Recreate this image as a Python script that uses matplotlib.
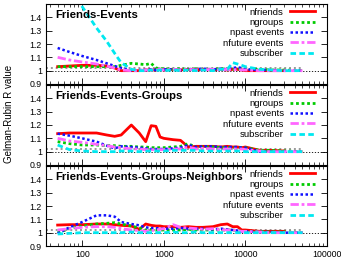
import numpy as np
import matplotlib
matplotlib.use("Agg")
import matplotlib.pyplot as plt

nan = np.nan

# shared sample sizes (x axis)
X = [50, 70, 100, 150, 200, 250, 300, 400, 500, 600, 700, 800, 900, 1000, 1300,
     1600, 2000, 2500, 3000, 4000, 5000, 6000, 7000, 8000, 9000, 10000, 15000,
     20000, 30000, 50000]

series_names = ["nfriends", "ngroups", "npast events", "nfuture events", "subscriber"]
panel_titles = ["Friends-Events", "Friends-Events-Groups",
                "Friends-Events-Groups-Neighbors"]

# Friends-Events
fe_nfriends = [1.03, 1.035, 1.04, 1.04, 1.035, 1.02, 1.0, 1.0, 1.0, 1.005, 1.005, 1.005, 1.01, 1.005, 1.01,
               1.005, 1.01, 1.005, 1.01, 1.005, 1.01, 1.005, 1.01, 1.01, 1.005, 1.0, 1.0, 1.0, 1.0, nan]
fe_ngroups = [1.03, 1.03, 1.03, 1.03, 1.03, 1.03, 1.04, 1.055, 1.05, 1.045, 1.055, 1.02, 1.015, 1.015, 1.01,
              1.015, 1.01, 1.015, 1.01, 1.01, 1.015, 1.01, 1.01, 1.015, 1.01, 1.01, 1.01, 1.005, 1.005, 1.0]
fe_npast = [1.17, 1.14, 1.11, 1.08, 1.055, 1.035, 1.02, 1.0, 1.005, 1.005, 1.01, 1.005, 1.01, 1.01, 1.01,
            1.005, 1.01, 1.01, 1.015, 1.01, 1.015, 1.01, 1.02, 1.025, 1.02, 1.01, 1.005, 1.005, 1.0, 1.0]
fe_nfuture = [1.10, 1.08, 1.065, 1.05, 1.035, 1.02, 1.005, 1.0, 1.0, 1.005, 1.005, 1.005, 1.01, 1.005, 1.01,
              1.005, 1.01, 1.005, 1.005, 1.01, 1.005, 1.01, 1.005, 1.01, 1.005, 1.005, 1.0, 1.0, 1.0, 1.0]
fe_subscriber = [1.75, 1.6, 1.48, 1.32, 1.22, 1.13, 1.06, 1.01, 1.0, 1.0, 1.005, 1.0, 1.005, 1.0, 1.005,
                 1.0, 1.005, 1.0, 1.005, 1.0, 1.01, 1.01, 1.06, 1.05, 1.04, 1.03, 1.01, 1.005, 1.0, 1.0]

# Friends-Events-Groups
feg_nfriends = [1.135, 1.14, 1.14, 1.14, 1.125, 1.115, 1.125, 1.2, 1.14, 1.075, 1.195, 1.19, 1.11, 1.10, 1.09,
                1.085, 1.035, 1.04, 1.04, 1.04, 1.035, 1.04, 1.035, 1.035, 1.03, 1.035, 1.01, 1.01, 1.005, nan]
feg_ngroups = [1.075, 1.06, 1.05, 1.05, 1.045, 1.045, 1.04, 1.04, 1.035, 1.035, 1.03, 1.03, 1.03, 1.03, 1.035,
               1.04, 1.06, 1.03, 1.035, 1.035, 1.03, 1.03, 1.03, 1.03, 1.03, 1.03, 1.01, 1.01, 1.005, 1.0]
feg_npast = [1.135, 1.12, 1.10, 1.075, 1.045, 1.025, 1.04, 1.035, 1.03, 1.025, 1.02, 1.02, 1.02, 1.02, 1.025,
             1.03, 1.05, 1.035, 1.04, 1.04, 1.035, 1.035, 1.035, 1.035, 1.03, 1.03, 1.0, 1.0, 1.0, 1.0]
feg_nfuture = [1.10, 1.08, 1.07, 1.055, 1.045, 1.035, 1.03, 1.02, 1.02, 1.015, 1.015, 1.015, 1.015, 1.015, 1.02,
               1.02, 1.035, 1.02, 1.025, 1.02, 1.02, 1.02, 1.02, 1.02, 1.02, 1.015, 1.005, 1.0, 1.0, 1.0]
feg_subscriber = [1.05, 1.015, 1.005, 1.0, 1.0, 1.0, 1.005, 1.005, 1.0, 1.005, 1.005, 1.005, 1.005, 1.005, 1.01,
                  1.01, 1.01, 1.01, 1.005, 1.005, 1.005, 1.005, 1.005, 1.005, 1.005, 1.0, 1.0, 1.0, 1.0, 1.0]

# Friends-Events-Groups-Neighbors
fegn_nfriends = [1.057, 1.06, 1.06, 1.065, 1.065, 1.06, 1.055, 1.05, 1.025, 1.065, 1.055, 1.05, 1.05, 1.045, 1.045,
                 1.04, 1.045, 1.04, 1.04, 1.045, 1.06, 1.065, 1.045, 1.045, 1.02, 1.02, 1.01, 1.01, 1.01, nan]
fegn_ngroups = [1.0, 1.03, 1.05, 1.065, 1.07, 1.075, 1.065, 1.05, 1.035, 1.02, 1.025, 1.02, 1.02, 1.02, 1.02,
                1.02, 1.025, 1.02, 1.02, 1.02, 1.02, 1.02, 1.02, 1.015, 1.01, 1.01, 1.01, 1.005, 1.005, 1.0]
fegn_npast = [0.995, 1.04, 1.08, 1.13, 1.13, 1.12, 1.08, 1.065, 1.055, 1.04, 1.035, 1.035, 1.03, 1.03, 1.03,
              1.035, 1.03, 1.03, 1.03, 1.025, 1.03, 1.025, 1.02, 1.015, 1.01, 1.01, 1.005, 1.005, 1.0, 1.0]
fegn_nfuture = [1.02, 1.03, 1.04, 1.045, 1.045, 1.04, 1.03, 1.02, 1.015, 1.01, 1.015, 1.02, 1.025, 1.03, 1.06,
                1.04, 1.035, 1.03, 1.025, 1.03, 1.02, 1.02, 1.02, 1.015, 1.01, 1.01, 1.005, 1.0, 1.0, 1.0]
fegn_subscriber = [0.99, 0.995, 1.0, 1.0, 1.0, 1.0, 1.0, 1.005, 1.0, 1.0, 1.0, 1.0, 1.0, 1.0, 1.005,
                   1.0, 1.0, 1.005, 1.0, 1.0, 1.0, 1.0, 1.0, 1.0, 1.0, 1.0, 1.0, 1.0, 1.0, 1.0]

panels = [
    [fe_nfriends, fe_ngroups, fe_npast, fe_nfuture, fe_subscriber],
    [feg_nfriends, feg_ngroups, feg_npast, feg_nfuture, feg_subscriber],
    [fegn_nfriends, fegn_ngroups, fegn_npast, fegn_nfuture, fegn_subscriber],
]

threshold = 1.02

colors = ["#ff0000", "#00cc00", "#1010ff", "#ff66ff", "#00e8f0"]
styles = ["-", (0, (1, 1)), (0, (1, 1)), (0, (3, 1, 1, 1)), (0, (2, 1.2))]
widths = [2.0, 2.0, 1.8, 2.0, 2.0]

plt.rcParams["font.family"] = ["Liberation Sans", "DejaVu Sans"]

fig = plt.figure(figsize=(3.41, 2.65), dpi=100)
left, width, height = 46 / 341, 281 / 341, 80 / 265
bottoms = [1 - 84 / 265, 1 - 165 / 265, 1 - 246 / 265]

for i, (title, data) in enumerate(zip(panel_titles, panels)):
    ax = fig.add_axes([left, bottoms[i], width, height])
    ax.set_xscale("log")
    ax.set_xlim(36, 100000)
    ax.set_ylim(0.9, 1.5)
    ax.axhline(1.0, color="black", lw=0.6, ls=(0, (1.5, 2)), zorder=1)
    ax.plot([36, X[-1]], [threshold, threshold], color="#999999", lw=1.4,
            ls=(0, (1, 1.5)), zorder=1)
    for vals, name, c, s, w in zip(data, series_names, colors, styles, widths):
        ax.plot(X, vals, color=c, ls=s, lw=w, label=name, zorder=2)
    ax.set_yticks([0.9, 1.0, 1.1, 1.2, 1.3, 1.4])
    ax.set_yticklabels(["0.9", "1", "1.1", "1.2", "1.3", "1.4"])
    ax.tick_params(which="both", direction="in", top=True, right=True,
                   labelsize=6.3, pad=3)
    ax.tick_params(which="major", length=4, width=0.6)
    ax.tick_params(which="minor", length=2, width=0.5)
    if i < 2:
        ax.tick_params(labelbottom=False)
    else:
        ax.set_xticks([100, 1000, 10000, 100000])
        ax.set_xticklabels(["100", "1000", "10000", "100000"])
    for sp in ax.spines.values():
        sp.set_linewidth(0.8)
    ax.text(0.032, 0.86, title, transform=ax.transAxes, fontsize=8.2,
            fontweight="bold", va="center", ha="left")
    ax.legend(loc="upper right", bbox_to_anchor=(0.957, 0.955), frameon=False,
              markerfirst=False, fontsize=6.8, labelspacing=0.14,
              handlelength=2.6, handletextpad=0.7, borderpad=0, borderaxespad=0)

fig.text(0.025, 0.57, "Gelman-Rubin R value", rotation=90, fontsize=7,
         ha="center", va="center")

fig.savefig("out.png", dpi=100)
